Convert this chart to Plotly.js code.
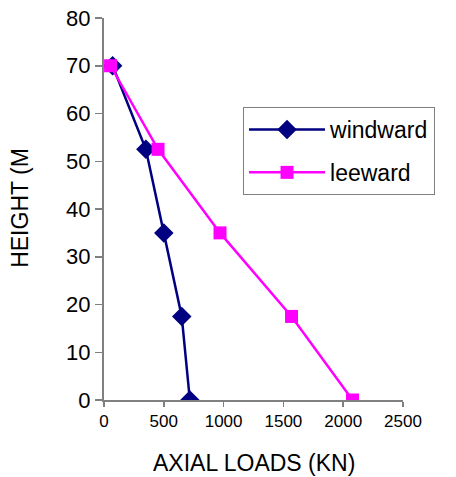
<!DOCTYPE html>
<html>
<head>
<meta charset="utf-8">
<script src="https://cdn.plot.ly/plotly-3.0.1.min.js"></script>
<style>html,body{margin:0;padding:0;background:#fff;overflow:hidden}</style>
</head>
<body>
<div id="chart" style="width:456px;height:477px"></div>
<script>
const heights = [0, 17.5, 35, 52.5, 70];
const windward = [718, 650, 500, 350, 72];
const leeward = [2078, 1568, 970, 452, 55];
const xTicks = [0, 500, 1000, 1500, 2000, 2500];
const yTicks = [0, 10, 20, 30, 40, 50, 60, 70, 80];

const font = "Liberation Sans, Arial, sans-serif";
const data = [
  {x: windward, y: heights, name: 'windward', legendgroup: 'a', mode: 'lines+markers', type: 'scatter',
   line: {color: '#000080', width: 2.5}, marker: {symbol: 'diamond', size: 15, color: '#000080'}},
  {x: leeward, y: heights, name: 'leeward', legendgroup: 'b', mode: 'lines+markers', type: 'scatter',
   line: {color: '#FF00FF', width: 2.5}, marker: {symbol: 'square', size: 13, color: '#FF00FF'}}
];
const layout = {
  width: 456, height: 477,
  margin: {l: 104, r: 53, t: 18, b: 77, autoexpand: false},
  paper_bgcolor: '#fff', plot_bgcolor: '#fff',
  showlegend: true,
  font: {family: font, color: '#000'},
  xaxis: {range: [0, 2500], tickvals: xTicks, showgrid: false, zeroline: false,
    showline: true, linecolor: '#808080', linewidth: 2, ticks: 'outside', ticklen: 5,
    tickcolor: '#808080', tickwidth: 1.5, tickfont: {size: 17, family: font}},
  yaxis: {range: [0, 80], tickvals: yTicks, showgrid: false, zeroline: false,
    showline: true, linecolor: '#808080', linewidth: 2, ticks: 'outside', ticklen: 7,
    tickcolor: '#808080', tickwidth: 1.5, tickfont: {size: 22, family: font}},
  legend: {x: 0.465, y: 0.767, xanchor: 'left', yanchor: 'top', bgcolor: '#fff',
    bordercolor: '#808080', borderwidth: 1, font: {size: 23, family: font},
    itemwidth: 76, tracegroupgap: 10},
  annotations: [
    {text: 'AXIAL LOADS (KN)', xref: 'paper', yref: 'paper', x: 0.502, y: -0.165,
     showarrow: false, font: {size: 23, family: font}, xanchor: 'center', yanchor: 'middle'},
    {text: 'HEIGHT (M', xref: 'paper', yref: 'paper', x: -0.281, y: 0.503,
     showarrow: false, textangle: -90, font: {size: 23, family: font}, xanchor: 'center', yanchor: 'middle'}
  ]
};
Plotly.newPlot('chart', data, layout, {displayModeBar: false, staticPlot: true});
</script>
</body>
</html>
